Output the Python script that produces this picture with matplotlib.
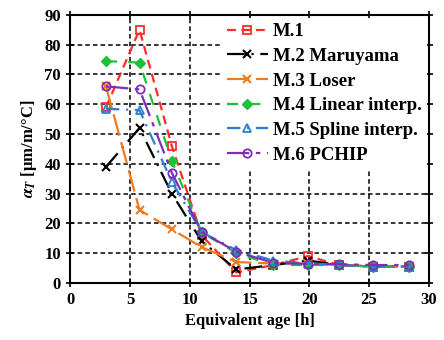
import matplotlib
matplotlib.use("Agg")
import matplotlib.pyplot as plt

age = [3.0, 5.8, 8.5, 11.0, 13.9, 17.0, 19.9, 22.5, 25.3, 28.3]
m1 = [59, 85, 46, 16, 3.5, 6, 9, 6, 5.5, 5.5]
m2 = [39, 52, 30, 14, 4.5, 6, 7.5, 6, 5.5, 5.5]
m3 = [66, 24.5, 18, 12, 7, 6.5, 6.5, 6, 5.5, 5.5]
m4 = [74.5, 74, 41, 17, 10, 6, 6, 6, 5.5, 5.5]
m5 = [58.5, 58, 34, 17, 11, 7.5, 6.5, 6, 5.5, 5.5]
m6 = [66, 65, 37, 17, 10.5, 6.7, 6.4, 6.3, 6, 6]
labels = ["M.1", "M.2 Maruyama", "M.3 Loser", "M.4 Linear interp.",
          "M.5 Spline interp.", "M.6 PCHIP"]

plt.rcParams['font.family'] = ['Liberation Serif', 'DejaVu Serif']
plt.rcParams['font.weight'] = 'bold'
plt.rcParams['mathtext.fontset'] = 'stix'

fig = plt.figure(figsize=(4.44, 3.4), dpi=100)
ax = fig.add_axes([0.158, 0.168, 0.808, 0.788])

styles = [
    dict(color='#ff2a2a', ls=(0, (4, 2.5)), marker='s', mfc='none', ms=6, mew=1.3),
    dict(color='black', ls=(0, (8, 3, 1, 3)), marker='x', ms=6, mew=1.5),
    dict(color='#ee7b1e', ls=(0, (10, 3)), marker='x', ms=6, mew=1.5),
    dict(color='#1fbf3a', ls=(0, (5, 5)), marker='D', mfc='#1fbf3a', ms=5),
    dict(color='#2a7fd4', ls=(0, (6, 3, 1, 3)), marker='^', mfc='none', ms=6, mew=1.3),
    dict(color='#7a2fb5', ls=(0, (10, 3, 2, 3)), marker='o', mfc='none', ms=6, mew=1.3),
]
for ys, lab, st in zip([m1, m2, m3, m4, m5, m6], labels, styles):
    ax.plot(age, ys, lw=1.6, label=lab, zorder=3, **st)

ax.set_xlim(0, 30)
ax.set_ylim(0, 90)
ax.set_xticks(range(0, 31, 5))
ax.set_yticks(range(0, 91, 10))
ax.grid(True, color='black', ls=(0, (3, 2)), lw=1.1, zorder=1)
ax.tick_params(direction='inout', length=6, width=1.2, labelsize=12,
               top=True, right=True)
for s in ax.spines.values():
    s.set_linewidth(1.5)
for t in ax.get_xticklabels() + ax.get_yticklabels():
    t.set_fontweight('bold')

ax.set_xlabel("Equivalent age [h]", fontsize=12, fontweight='bold')
ax.set_ylabel(r"$\alpha_T$ [μm/m/°C]", fontsize=12, fontweight='bold')

leg = ax.legend(loc='upper right', bbox_to_anchor=(0.995, 0.99), frameon=True,
                handlelength=2.2, borderaxespad=0.0, labelspacing=0.4,
                handletextpad=0.25, borderpad=0.3,
                prop={'weight': 'bold', 'size': 13.5})
leg.get_frame().set_edgecolor('none')
leg.get_frame().set_alpha(1)
leg.set_zorder(5)

fig.savefig("out.png", dpi=100)
